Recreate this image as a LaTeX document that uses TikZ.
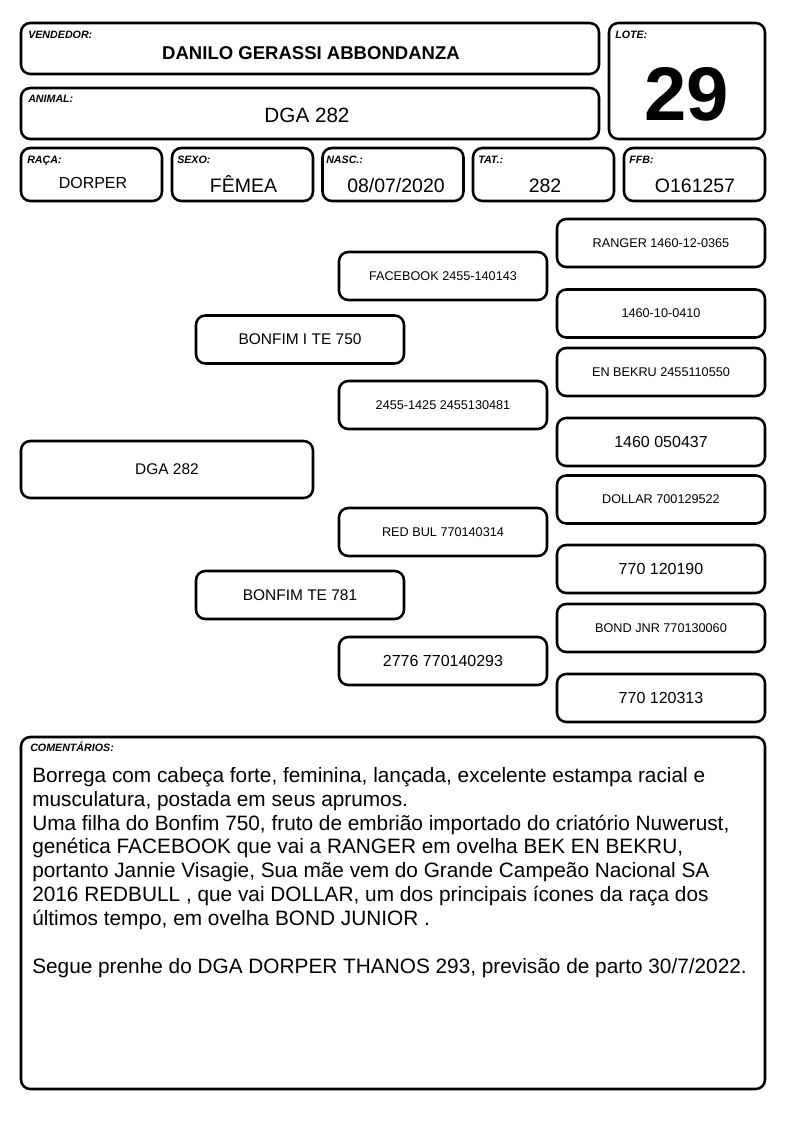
\documentclass[tikz,border=0pt]{standalone}
\usepackage{fontspec}
\setmainfont{Liberation Sans}
\usetikzlibrary{positioning}
\newcommand{\pxu}{0.75pt}

\begin{document}
\begin{tikzpicture}[
    x=0.75pt, y=-0.75pt,
    box/.style={rectangle, rounded corners=7pt, draw=black, line width=1.9pt,
                inner sep=0pt, align=center},
    pedbox/.style={box, minimum width=208*\pxu, minimum height=48*\pxu},
    rowbox/.style={box, minimum width=141*\pxu, minimum height=53*\pxu},
    lbl/.style={font=\fontsize{8}{9}\selectfont\bfseries\itshape,
                anchor=base west, inner sep=0pt},
    val/.style={anchor=base, inner sep=0pt},
    pedsmall/.style={font=\fontsize{9.5}{11}\selectfont},
    pedbig/.style={font=\fontsize{12}{14}\selectfont},
    pedmid/.style={font=\fontsize{11.6}{13}\selectfont},
]
\useasboundingbox (0,0) rectangle (794,1123);

% === Header ===
\node[box, minimum width=578*\pxu, minimum height=51*\pxu] (vend) at (310,48.5) {};
\node[lbl] (vendl) at (28,38.5) {VENDEDOR:};
\node[val, font=\fontsize{13.9}{16}\selectfont\bfseries] (vendv) at (311,59.5)
    {DANILO GERASSI ABBONDANZA};

\node[box, minimum width=578*\pxu, minimum height=51*\pxu] (anim) at (310,113.5) {};
\node[lbl] (animl) at (28,102.5) {ANIMAL:};
\node[val, font=\fontsize{15.5}{18}\selectfont] (animv) at (307,123) {DGA 282};

\node[box, minimum width=156*\pxu, minimum height=116*\pxu] (lote) at (687,81) {};
\node[lbl] (lotel) at (615,38.5) {LOTE:};
\node[val, font=\fontsize{57}{60}\selectfont\bfseries] (lotev) at (687,120.5) {29};

% === Row of fields ===
\node[rowbox] (raca) at (91.5,174.5) {};
\node[rowbox] (sexo) at (242.5,174.5) {};
\node[rowbox] (nasc) at (393,174.5) {};
\node[rowbox] (tat)  at (543.5,174.5) {};
\node[rowbox] (ffb)  at (694.5,174.5) {};

\node[lbl] (racal) at (27,163.5) {RAÇA:};
\node[lbl] (sexol) at (177,163.5) {SEXO:};
\node[lbl] (nascl) at (326,163.5) {NASC.:};
\node[lbl] (tatl)  at (478,163.5) {TAT.:};
\node[lbl] (ffbl)  at (629,163.5) {FFB:};

\node[val, font=\fontsize{12}{14}\selectfont] (racav) at (93,188.5) {DORPER};
\node[val, font=\fontsize{14.6}{17}\selectfont] (sexov) at (243.5,193) {FÊMEA};
\node[val, font=\fontsize{14.6}{17}\selectfont] (nascv) at (396,193) {08/07/2020};
\node[val, font=\fontsize{14.6}{17}\selectfont] (tatv)  at (545,193) {282};
\node[val, font=\fontsize{14.6}{17}\selectfont] (ffbv)  at (695,193) {O161257};

% === Pedigree ===
\node[box, minimum width=292*\pxu, minimum height=57*\pxu, pedmid] (root) at (167,469.5) {DGA 282};

\node[pedbox, pedmid] (sire) at (300,339.5) {BONFIM I TE 750};
\node[pedbox, pedmid] (dam)  at (300,595)   {BONFIM TE 781};

\node[pedbox, pedsmall] (ss) at (443,276) {FACEBOOK 2455-140143};
\node[pedbox, pedsmall] (sd) at (443,405) {2455-1425 2455130481};
\node[pedbox, pedsmall] (ds) at (443,532) {RED BUL 770140314};
\node[pedbox, pedbig]   (dd) at (443,661) {2776 770140293};

\node[pedbox, pedsmall] (sss) at (661,243)   {RANGER 1460-12-0365};
\node[pedbox, pedsmall] (ssd) at (661,313.5) {1460-10-0410};
\node[pedbox, pedsmall] (sds) at (661,372)   {EN BEKRU 2455110550};
\node[pedbox, pedbig]   (sdd) at (661,442)   {1460 050437};
\node[pedbox, pedsmall] (dss) at (661,499.5) {DOLLAR 700129522};
\node[pedbox, pedbig]   (dsd) at (661,569)   {770 120190};
\node[pedbox, pedsmall] (dds) at (661,628)   {BOND JNR 770130060};
\node[pedbox, pedbig]   (ddd) at (661,698)   {770 120313};

% === Comments ===
\node[box, minimum width=744*\pxu, minimum height=352*\pxu] (coment) at (393,913) {};
\node[lbl] (comentl) at (30,751.5) {COMENTÁRIOS:};
\node[anchor=north west, inner sep=0pt, align=left,
      font=\fontsize{15.6}{17.9}\selectfont] (comtxt) at (32,767) {%
Borrega com cabeça forte, feminina, lançada, excelente estampa racial e\\
musculatura, postada em seus aprumos.\\
Uma filha do Bonfim 750, fruto de embrião importado do criatório Nuwerust,\\
genética FACEBOOK que vai a RANGER em ovelha BEK EN BEKRU,\\
portanto Jannie Visagie, Sua mãe vem do Grande Campeão Nacional SA\\
2016 REDBULL , que vai DOLLAR, um dos principais ícones da raça dos\\
últimos tempo, em ovelha BOND JUNIOR .\\[17.9pt]
Segue prenhe do DGA DORPER THANOS 293, previsão de parto 30/7/2022.};

\end{tikzpicture}
\end{document}
